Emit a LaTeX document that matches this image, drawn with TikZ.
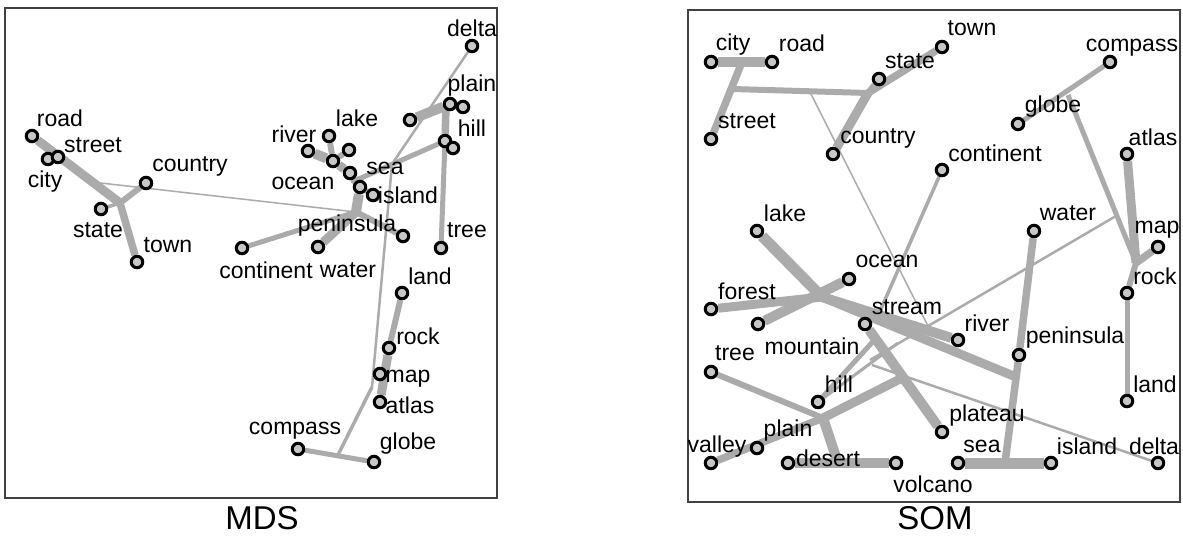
\documentclass[tikz,border=0pt]{standalone}
\usepackage{fontspec}
\setmainfont{Liberation Sans}
\usetikzlibrary{backgrounds}

\begin{document}
\begin{tikzpicture}[x=1pt, y=-1pt,
        word/.style={circle, draw=black, line width=3pt, fill=black!22, inner sep=0pt, minimum size=11.5pt},
        lbl/.style={inner sep=0pt, font=\fontsize{23}{25}\selectfont},
        title/.style={inner sep=0pt, font=\fontsize{33}{36}\selectfont},
        link/.style={draw=black!33, line width=#1},
        link/.default=4pt,
        frame/.style={draw=black!75, line width=1.8pt}]
        \useasboundingbox (0,0) rectangle (1183,542);

        % MDS panel
        \draw[frame] (5,8) rectangle (497,498);
        \node[title] (mds) at (262,518) {MDS};

        \node[word] (m-road) at (32,136) {};
        \node[word] (m-city) at (48,159) {};
        \node[word] (m-street) at (58,157) {};
        \node[word] (m-country) at (146,183) {};
        \node[word] (m-state) at (101,209) {};
        \node[word] (m-town) at (137,262) {};
        \node[word] (m-continent) at (242,248) {};
        \node[word] (m-water) at (318,247) {};
        \node[word] (m-forest) at (308,151) {};
        \node[word] (m-river) at (329,136) {};
        \node[word] (m-lake) at (349,150) {};
        \node[word] (m-stream) at (333,161) {};
        \node[word] (m-ocean) at (350,173) {};
        \node[word] (m-sea) at (360,187) {};
        \node[word] (m-island) at (373,195) {};
        \node[word] (m-peninsula) at (403,236) {};
        \node[word] (m-delta) at (472,46) {};
        \node[word] (m-valley) at (410,120) {};
        \node[word] (m-plain) at (450,104) {};
        \node[word] (m-plateau) at (463,107) {};
        \node[word] (m-hill) at (445,141) {};
        \node[word] (m-mountain) at (453,148) {};
        \node[word] (m-tree) at (441,248) {};
        \node[word] (m-land) at (402,293) {};
        \node[word] (m-rock) at (389,348) {};
        \node[word] (m-map) at (380,374) {};
        \node[word] (m-atlas) at (380,402) {};
        \node[word] (m-compass) at (298,449) {};
        \node[word] (m-globe) at (374,462) {};

        \coordinate (mj1) at (120,203);
        \coordinate (mj2) at (92,182);
        \coordinate (mj4) at (356,212);
        \coordinate (mj5) at (352,182);
        \coordinate (mjb) at (392,164);
        \coordinate (mj6) at (372,387);
        \coordinate (mj7) at (338,455);
        \coordinate (mj9) at (446,107);

        \node[lbl] (m-road-t) at (60,118) {road};
        \node[lbl] (m-street-t) at (93,145) {street};
        \node[lbl] (m-city-t) at (45,182) {city};
        \node[lbl] (m-country-t) at (190,166) {country};
        \node[lbl] (m-state-t) at (98,230) {state};
        \node[lbl] (m-town-t) at (168,245) {town};
        \node[lbl] (m-continent-t) at (266,270) {continent};
        \node[lbl] (m-water-t) at (348,270) {water};
        \node[lbl] (m-river-t) at (294,134) {river};
        \node[lbl] (m-lake-t) at (357,118) {lake};
        \node[lbl] (m-ocean-t) at (303,183) {ocean};
        \node[lbl] (m-sea-t) at (385,168) {sea};
        \node[lbl] (m-island-t) at (408,195) {island};
        \node[lbl] (m-peninsula-t) at (347,226) {peninsula};
        \node[lbl] (m-delta-t) at (472,28) {delta};
        \node[lbl] (m-plain-t) at (472,86) {plain};
        \node[lbl] (m-hill-t) at (472,128) {hill};
        \node[lbl] (m-tree-t) at (467,230) {tree};
        \node[lbl] (m-land-t) at (430,276) {land};
        \node[lbl] (m-rock-t) at (418,336) {rock};
        \node[lbl] (m-map-t) at (408,379) {map};
        \node[lbl] (m-atlas-t) at (410,405) {atlas};
        \node[lbl] (m-compass-t) at (295,431) {compass};
        \node[lbl] (m-globe-t) at (408,444) {globe};

        \begin{scope}[on background layer]
        \draw[link=9pt] (m-road) -- (mj1);
        \draw[link=7.5pt] (m-city) -- (m-street);
        \draw[link=6pt] (mj1) -- (m-country);
        \draw[link=3.5pt] (mj1) -- (m-state);
        \draw[link=7.5pt] (mj1) -- (m-town);
        \draw[link=1.5pt] (mj2) -- (mj4);
        \draw[link=10pt] (m-forest) -- (m-stream);
        \draw[link=6pt] (m-river) -- (m-stream);
        \draw[link=6pt] (m-lake) -- (m-stream);
        \draw[link=9pt] (m-stream) -- (m-ocean) -- (m-sea);
        \draw[link=6pt] (m-sea) -- (m-island);
        \draw[link=10pt] (m-sea) -- (mj4);
        \draw[link=9pt] (mj4) -- (m-water);
        \draw[link=6pt] (mj4) -- (m-peninsula);
        \draw[link=5pt] (m-continent) -- (mj4);
        \draw[link=5pt] (mj5) -- (m-hill);
        \draw[link=2.5pt] (m-delta) -- (mjb) -- (mj6);
        \draw[link=3.5pt] (mj6) -- (mj7);
        \draw[link=5pt] (m-compass) -- (m-globe);
        \draw[link=10pt] (m-valley) -- (m-plain);
        \draw[link=7.5pt] (m-plain) -- (m-plateau);
        \draw[link=7.5pt] (mj9) -- (m-hill);
        \draw[link=6pt] (m-hill) -- (m-mountain);
        \draw[link=5pt] (m-hill) -- (m-tree);
        \draw[link=6pt] (m-land) -- (m-rock);
        \draw[link=9pt] (m-rock) -- (m-atlas);
        \end{scope}

        % SOM panel
        \draw[frame] (688,10) rectangle (1180,502);
        \node[title] (som) at (935,518) {SOM};

        \node[word] (s-city) at (711,62) {};
        \node[word] (s-road) at (772,62) {};
        \node[word] (s-street) at (711,139) {};
        \node[word] (s-state) at (879,79) {};
        \node[word] (s-town) at (942,47) {};
        \node[word] (s-country) at (833,154) {};
        \node[word] (s-compass) at (1110,62) {};
        \node[word] (s-globe) at (1018,124) {};
        \node[word] (s-atlas) at (1127,154) {};
        \node[word] (s-continent) at (942,170) {};
        \node[word] (s-lake) at (757,231) {};
        \node[word] (s-water) at (1034,231) {};
        \node[word] (s-map) at (1158,247) {};
        \node[word] (s-ocean) at (849,279) {};
        \node[word] (s-rock) at (1127,293) {};
        \node[word] (s-forest) at (711,309) {};
        \node[word] (s-mountain) at (758,324) {};
        \node[word] (s-stream) at (865,324) {};
        \node[word] (s-river) at (958,340) {};
        \node[word] (s-peninsula) at (1019,355) {};
        \node[word] (s-tree) at (711,372) {};
        \node[word] (s-hill) at (818,402) {};
        \node[word] (s-land) at (1127,401) {};
        \node[word] (s-plateau) at (942,432) {};
        \node[word] (s-plain) at (757,448) {};
        \node[word] (s-valley) at (711,463) {};
        \node[word] (s-desert) at (788,463) {};
        \node[word] (s-volcano) at (896,463) {};
        \node[word] (s-sea) at (958,463) {};
        \node[word] (s-island) at (1051,463) {};
        \node[word] (s-delta) at (1158,463) {};

        \coordinate (sj1) at (742,62);
        \coordinate (sj2) at (733,89);
        \coordinate (sj3) at (868,93);
        \coordinate (sj4) at (810,92);
        \coordinate (sj5) at (930,330);
        \coordinate (sj6) at (877,318);
        \coordinate (sj7) at (1068,95);
        \coordinate (sj8) at (1136,263);
        \coordinate (sj9) at (1005,463);
        \coordinate (sj10) at (1116,216);
        \coordinate (sj11) at (870,360);
        \coordinate (sj12) at (1016,377);
        \coordinate (sj13) at (872,365);
        \coordinate (sj14) at (877,337);
        \coordinate (sj15) at (898,343);
        \coordinate (sf) at (822,297);
        \coordinate (sp) at (823,418);
        \coordinate (sd) at (838,463);
        \coordinate (sq) at (904,377);

        \node[lbl] (s-city-t) at (733,45) {city};
        \node[lbl] (s-road-t) at (802,43) {road};
        \node[lbl] (s-street-t) at (747,121) {street};
        \node[lbl] (s-state-t) at (910,61) {state};
        \node[lbl] (s-town-t) at (972,28) {town};
        \node[lbl] (s-country-t) at (878,138) {country};
        \node[lbl] (s-compass-t) at (1132,48) {compass};
        \node[lbl] (s-globe-t) at (1053,107) {globe};
        \node[lbl] (s-atlas-t) at (1153,137) {atlas};
        \node[lbl] (s-continent-t) at (995,153) {continent};
        \node[lbl] (s-lake-t) at (785,213) {lake};
        \node[lbl] (s-water-t) at (1068,213) {water};
        \node[lbl] (s-map-t) at (1157,230) {map};
        \node[lbl] (s-ocean-t) at (887,261) {ocean};
        \node[lbl] (s-rock-t) at (1155,276) {rock};
        \node[lbl] (s-forest-t) at (747,291) {forest};
        \node[lbl] (s-stream-t) at (907,307) {stream};
        \node[lbl] (s-river-t) at (987,323) {river};
        \node[lbl] (s-peninsula-t) at (1075,338) {peninsula};
        \node[lbl] (s-mountain-t) at (812,346) {mountain};
        \node[lbl] (s-tree-t) at (735,353) {tree};
        \node[lbl] (s-hill-t) at (839,384) {hill};
        \node[lbl] (s-land-t) at (1155,384) {land};
        \node[lbl] (s-plateau-t) at (987,416) {plateau};
        \node[lbl] (s-plain-t) at (788,431) {plain};
        \node[lbl] (s-valley-t) at (717,447) {valley};
        \node[lbl] (s-sea-t) at (982,446) {sea};
        \node[lbl] (s-island-t) at (1087,446) {island};
        \node[lbl] (s-delta-t) at (1154,446) {delta};
        \node[lbl] (s-desert-t) at (828,458) {desert};
        \node[lbl] (s-volcano-t) at (933,484) {volcano};

        \begin{scope}[on background layer]
        \draw[link=10pt] (s-city) -- (s-road);
        \draw[link=7.5pt] (sj1) -- (s-street);
        \draw[link=6pt] (sj2) -- (sj3);
        \draw[link=9pt] (s-country) -- (sj3);
        \draw[link=7.5pt] (sj3) -- (s-town);
        \draw[link=6pt] (sj3) -- (s-state);
        \draw[link=1.5pt] (sj4) -- (sj5);
        \draw[link=3.5pt] (s-continent) -- (sj6);
        \draw[link=5pt] (s-globe) -- (s-compass);
        \draw[link=5pt] (sj7) -- (sj8);
        \draw[link=9pt] (s-atlas) -- (sj8);
        \draw[link=7.5pt] (s-map) -- (sj8);
        \draw[link=6pt] (sj8) -- (s-rock);
        \draw[link=5pt] (s-rock) -- (s-land);
        \draw[link=7.5pt] (s-water) -- (s-peninsula) -- (sj9);
        \draw[link=11pt] (s-sea) -- (s-island);
        \draw[link=2.5pt] (sj10) -- (sj11);
        \draw[link=11pt] (s-lake) -- (sf);
        \draw[link=9pt] (s-forest) -- (sf);
        \draw[link=10pt] (s-mountain) -- (s-ocean);
        \draw[link=10pt] (sf) -- (s-river);
        \draw[link=9pt] (sf) -- (sj12);
        \draw[link=10pt] (s-stream) -- (s-plateau);
        \draw[link=6pt] (s-tree) -- (sp);
        \draw[link=7.5pt] (s-valley) -- (sp);
        \draw[link=10pt] (sp) -- (sd);
        \draw[link=10pt] (s-desert) -- (s-volcano);
        \draw[link=9pt] (sp) -- (sq);
        \draw[link=5pt] (s-hill) -- (sj14);
        \draw[link=3pt] (s-hill) -- (sj15);
        \draw[link=2.5pt] (s-delta) -- (sj13);
        \end{scope}
\end{tikzpicture}
\end{document}
